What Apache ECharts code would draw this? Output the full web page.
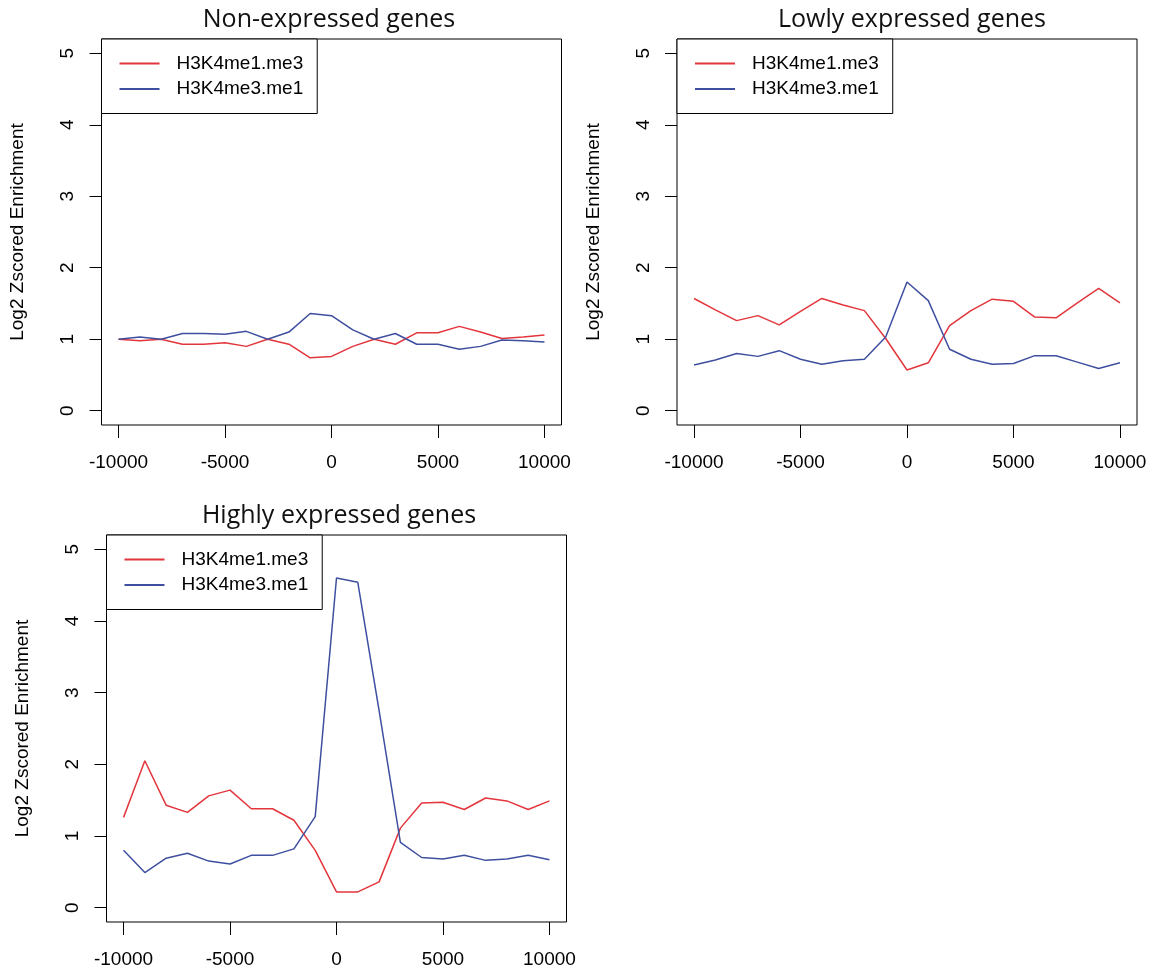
<!DOCTYPE html>
<html>
<head>
<meta charset="utf-8">
<script src="https://cdn.jsdelivr.net/npm/echarts@6/dist/echarts.min.js"></script>
<style>
  html, body { margin: 0; padding: 0; background: #fff; }
  #chart { width: 1153px; height: 971px; }
</style>
</head>
<body>
<div id="chart"></div>
<script>
// distance to TSS (bp)
const positions = [-10000, -9000, -8000, -7000, -6000, -5000, -4000, -3000, -2000, -1000, 0,
  1000, 2000, 3000, 4000, 5000, 6000, 7000, 8000, 9000, 10000]
const xTicks = [-10000, -5000, 0, 5000, 10000]
const yTicks = [0, 1, 2, 3, 4, 5]
const seriesNames = ['H3K4me1.me3', 'H3K4me3.me1']
const panelTitles = ['Non-expressed genes', 'Lowly expressed genes', 'Highly expressed genes']

const nonMe1Me3 = [1.00, 0.98, 1.00, 0.93, 0.93, 0.95, 0.90, 1.00, 0.93, 0.74, 0.76,
  0.90, 1.00, 0.93, 1.09, 1.09, 1.18, 1.10, 1.01, 1.03, 1.06]
const nonMe3Me1 = [1.00, 1.03, 1.00, 1.08, 1.08, 1.07, 1.11, 1.00, 1.10, 1.36, 1.33,
  1.13, 1.00, 1.08, 0.93, 0.93, 0.86, 0.90, 0.99, 0.98, 0.96]
const lowMe1Me3 = [1.57, 1.41, 1.26, 1.33, 1.20, 1.39, 1.57, 1.48, 1.40, 1.01, 0.57,
  0.67, 1.19, 1.40, 1.56, 1.53, 1.31, 1.30, 1.51, 1.71, 1.51]
const lowMe3Me1 = [0.64, 0.71, 0.80, 0.76, 0.84, 0.72, 0.65, 0.70, 0.72, 1.03, 1.80,
  1.54, 0.86, 0.72, 0.65, 0.66, 0.77, 0.77, 0.68, 0.59, 0.67]
const highMe1Me3 = [1.26, 2.05, 1.43, 1.33, 1.56, 1.64, 1.38, 1.38, 1.22, 0.80, 0.22,
  0.22, 0.36, 1.11, 1.46, 1.47, 1.37, 1.53, 1.49, 1.37, 1.49]
const highMe3Me1 = [0.80, 0.49, 0.69, 0.76, 0.65, 0.61, 0.73, 0.73, 0.82, 1.27, 4.60,
  4.54, 2.75, 0.91, 0.70, 0.68, 0.73, 0.66, 0.68, 0.73, 0.67]

const RED = '#e2363c'
const BLUE = '#3f4f9f'
const FONT = "'Liberation Sans', Arial, sans-serif"

// plot boxes (R keeps 4% padding around the data range)
const panels = [
  { box: { left: 101.5, top: 39, width: 460, height: 386 }, titleX: 324, titleY: 2, data: [nonMe1Me3, nonMe3Me1] },
  { box: { left: 677, top: 39, width: 460, height: 386 }, titleX: 907, titleY: 2, data: [lowMe1Me3, lowMe3Me1] },
  { box: { left: 106.5, top: 535, width: 460, height: 387 }, titleX: 334, titleY: 498, data: [highMe1Me3, highMe3Me1] },
]

const pairs = (ys) => positions.map((x, i) => [x, ys[i]])

function buildOption() {
  const grid = [], xAxis = [], yAxis = [], series = [], title = [], legend = []
  panels.forEach((p, i) => {
    grid.push({ ...p.box, show: true, borderColor: '#000', borderWidth: 1, backgroundColor: 'transparent' })
    xAxis.push({
      type: 'value', gridIndex: i, min: -10800, max: 10800,
      axisLine: { show: false, onZero: false },
      axisTick: { show: true, length: 13, customValues: xTicks, lineStyle: { color: '#000', width: 1 } },
      axisLabel: {
        customValues: xTicks, margin: 28, fontSize: 19, color: '#000', fontFamily: FONT,
        formatter: (v) => String(v),
      },
      splitLine: { show: false },
    })
    yAxis.push({
      type: 'value', gridIndex: i, min: -0.2, max: 5.2,
      name: 'Log2 Zscored Enrichment', nameLocation: 'middle', nameGap: 74,
      nameTextStyle: { fontSize: 19, color: '#000', fontFamily: FONT },
      axisLine: { show: false, onZero: false },
      axisTick: { show: true, length: 12, customValues: yTicks, lineStyle: { color: '#000', width: 1 } },
      axisLabel: { customValues: yTicks, rotate: 90, margin: 24, fontSize: 19, color: '#000', fontFamily: FONT },
      splitLine: { show: false },
    })
    title.push({
      text: panelTitles[i], left: p.titleX, top: p.titleY, textAlign: 'center',
      textStyle: { fontSize: 25, fontWeight: 'normal', color: '#111', fontFamily: "'Open Sans', 'Noto Sans', sans-serif" },
    })
    legend.push({
      left: p.box.left, top: p.box.top, orient: 'vertical', selectedMode: false,
      backgroundColor: '#fff', borderColor: '#000', borderWidth: 1, borderRadius: 0,
      padding: [15, 14, 15, 18], icon: 'rect', itemWidth: 40, itemHeight: 2, itemGap: 6.5,
      textStyle: { fontSize: 19, color: '#000', fontFamily: FONT, padding: [0, 0, 0, 12] },
      data: seriesNames,
    })
    p.data.forEach((ys, k) => {
      series.push({
        name: seriesNames[k], type: 'line', xAxisIndex: i, yAxisIndex: i,
        data: pairs(ys), symbol: 'none', animation: false,
        lineStyle: { color: k === 0 ? RED : BLUE, width: 1.5 },
        itemStyle: { color: k === 0 ? RED : BLUE },
      })
    })
  })
  return { backgroundColor: '#fff', animation: false, title, legend, grid, xAxis, yAxis, series }
}

const chart = echarts.init(document.getElementById('chart'))
chart.setOption(buildOption())
</script>
</body>
</html>
